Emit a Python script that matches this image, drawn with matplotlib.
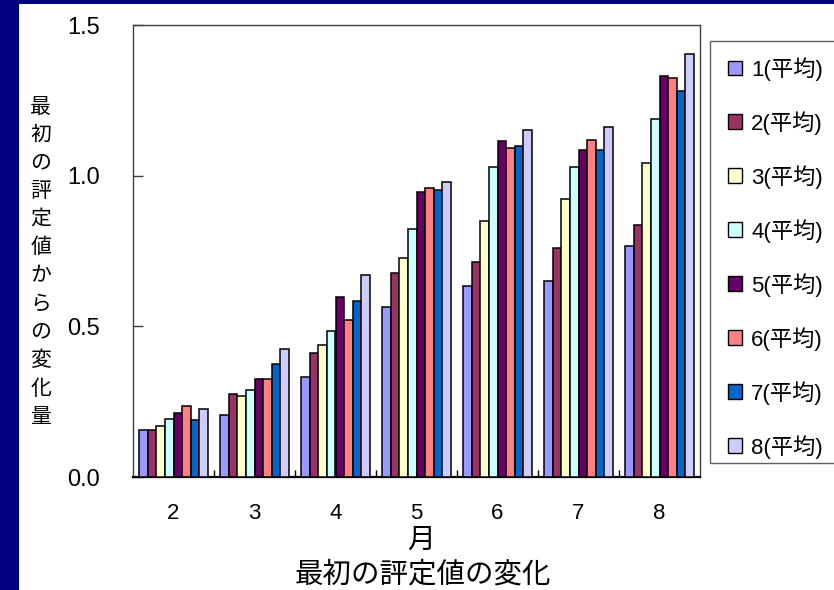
import numpy as np
import matplotlib.pyplot as plt
from matplotlib.patches import Patch, Rectangle

plt.rcParams['font.family'] = ['Liberation Sans', 'Noto Sans CJK JP', 'DejaVu Sans']

months = ['2', '3', '4', '5', '6', '7', '8']
series = ['1(平均)', '2(平均)', '3(平均)', '4(平均)', '5(平均)', '6(平均)', '7(平均)', '8(平均)']
colors = ['#9999FF', '#993366', '#FFFFCC', '#CCFFFF', '#660066', '#FF8080', '#0066CC', '#CCCCFF']

# change from the first rating, one list per series (months 2..8)
s1 = [0.156, 0.206, 0.332, 0.564, 0.635, 0.652, 0.765]
s2 = [0.156, 0.276, 0.413, 0.678, 0.715, 0.760, 0.835]
s3 = [0.168, 0.268, 0.439, 0.728, 0.848, 0.922, 1.042]
s4 = [0.194, 0.288, 0.483, 0.822, 1.029, 1.030, 1.187]
s5 = [0.213, 0.326, 0.596, 0.947, 1.116, 1.086, 1.330]
s6 = [0.237, 0.326, 0.521, 0.959, 1.091, 1.117, 1.325]
s7 = [0.188, 0.375, 0.583, 0.953, 1.100, 1.085, 1.280]
s8 = [0.225, 0.425, 0.671, 0.979, 1.153, 1.162, 1.405]
values = [s1, s2, s3, s4, s5, s6, s7, s8]

W, H = 834, 590
fig = plt.figure(figsize=(W / 100, H / 100), dpi=100)
fig.patch.set_facecolor('#000080')
# white slide area inside the navy border
fig.patches.append(Rectangle((19 / W, 0), 1, 1 - 4 / H, transform=fig.transFigure,
                             facecolor='white', edgecolor='none', zorder=-1))

ax = fig.add_axes([133 / W, 113 / H, 567 / W, 452 / H])
ax.set_zorder(2)
ax.set_facecolor('white')

x = np.arange(len(months))
w = 0.85 / len(series)
for i, (vals, c) in enumerate(zip(values, colors)):
    ax.bar(x - 0.425 + w * (i + 0.5), vals, width=w, color=c,
           edgecolor='black', linewidth=1.1, zorder=3)

ax.set_xlim(-0.5, len(months) - 0.5)
ax.set_ylim(0, 1.5)
ax.set_yticks([0.0, 0.5, 1.0, 1.5])
ax.set_yticklabels(['0.0', '0.5', '1.0', '1.5'])
ax.tick_params(axis='y', direction='in', length=7, width=1, color='#404040',
               labelsize=17, pad=24)
ax.set_xticks(x)
ax.set_xticklabels(months)
ax.set_xticks(np.arange(0.5, len(months) - 0.5), minor=True)
ax.tick_params(axis='x', which='major', length=0, labelsize=16, pad=19)
ax.tick_params(axis='x', which='minor', direction='in', length=5, width=1, color='black')

for side in ['left', 'top', 'right']:
    ax.spines[side].set_color('#404040')
    ax.spines[side].set_linewidth(1)
ax.spines['bottom'].set_color('black')
ax.spines['bottom'].set_linewidth(1.6)

ax.set_ylabel('\n'.join('最初の評定値からの変化量'), rotation=0, fontsize=15,
              linespacing=1.6, va='center')
ax.yaxis.set_label_coords(-0.163, 0.475)

fig.text(421 / W, 1 - 541 / H, '月', ha='center', va='center', fontsize=20)
fig.text(423 / W, 1 - 575 / H, '最初の評定値の変化', ha='center', va='center', fontsize=20.5)

# legend box runs off the right edge, so the frame is drawn separately
fig.patches.append(Rectangle((710 / W, 1 - 463 / H), 140 / W, 422 / H, transform=fig.transFigure,
                             facecolor='white', edgecolor='#606060', linewidth=1, zorder=1))
handles = [Patch(facecolor=c, edgecolor='black', linewidth=1) for c in colors]
leg = fig.legend(handles, series, loc='upper left', bbox_to_anchor=(728 / W, 1 - 57 / H),
                 fontsize=16, frameon=False,
                 handlelength=0.65, handleheight=0.65, handletextpad=0.4,
                 labelspacing=1.36, borderpad=0, borderaxespad=0)
leg.set_zorder(3)

fig.savefig('out.png', dpi=100, facecolor=fig.get_facecolor())
